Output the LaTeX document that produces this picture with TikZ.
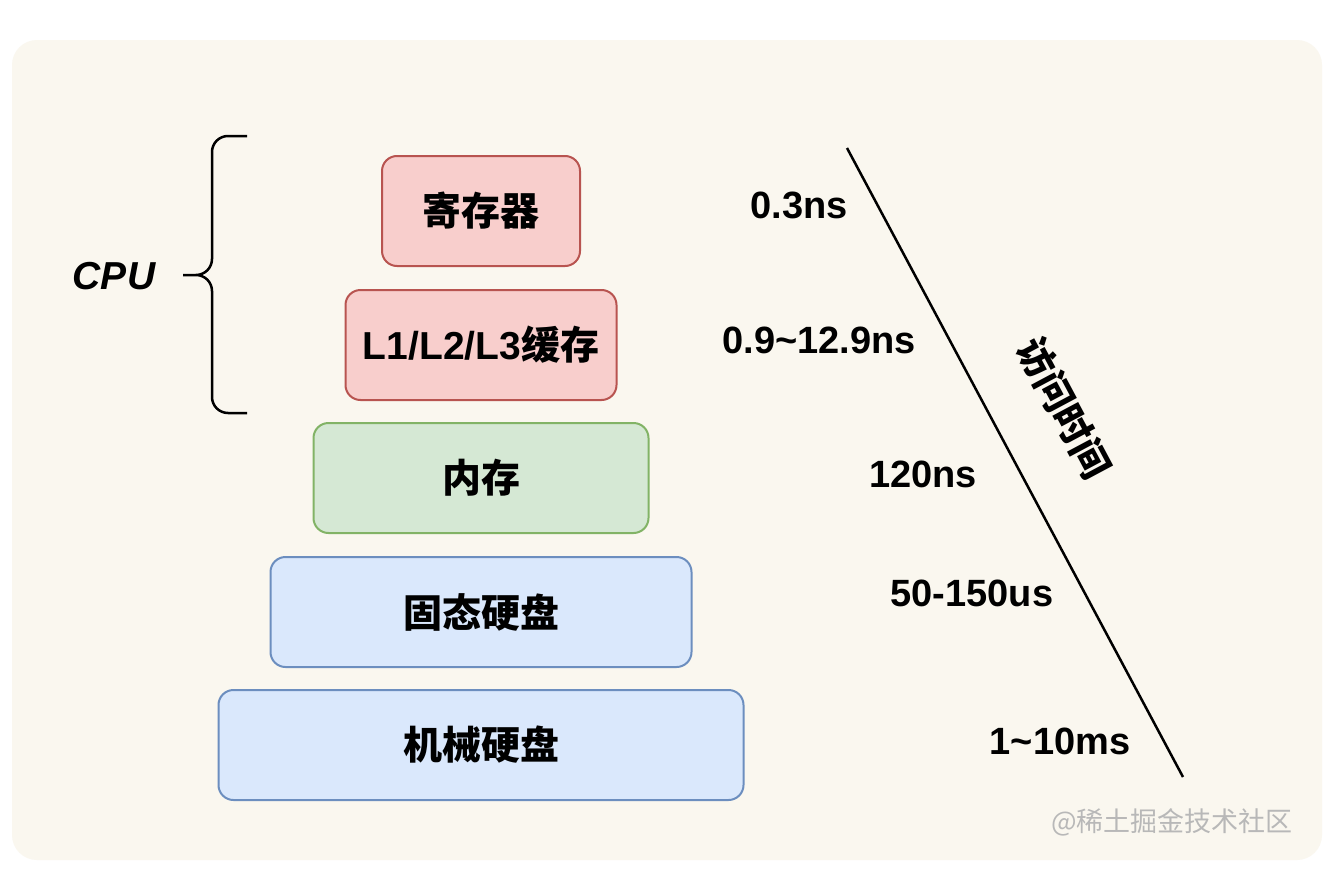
\documentclass[tikz,border=0pt]{standalone}
\usepackage{fontspec}
\setmainfont{Liberation Sans}
\newfontfamily\cjk{Noto Sans CJK SC}
\definecolor{bgbeige}{HTML}{FAF7EF}
\definecolor{regfill}{HTML}{F8CECC}
\definecolor{regline}{HTML}{B85450}
\definecolor{memfill}{HTML}{D5E8D4}
\definecolor{memline}{HTML}{82B366}
\definecolor{diskfill}{HTML}{DAE8FC}
\definecolor{diskline}{HTML}{6C8EBF}
\definecolor{wmgray}{HTML}{B8B8B8}
\newcommand\cachetext{{\rmfamily L1/L2/L3}缓存}

\begin{document}
\begin{tikzpicture}[x=1pt, y=-1pt,
	box/.style={draw, rounded corners=15, line width=2, minimum height=110, text=black,
		font=\cjk\bfseries\fontsize{39}{47}\selectfont},
	redbox/.style={box, fill=regfill, draw=regline},
	greenbox/.style={box, fill=memfill, draw=memline},
	bluebox/.style={box, fill=diskfill, draw=diskline},
	timelbl/.style={font=\bfseries\fontsize{38}{46}\selectfont}]
	%background
	\useasboundingbox (0,0) rectangle (1326,870);
	\fill[white] (0,0) rectangle (1326,870);
	\fill[bgbeige, rounded corners=25] (12,40) rectangle (1322,860);
	%boxes
	\foreach \n/\y/\w/\s/\t in {
		reg/211/198/redbox/寄存器,
		cache/345/271/redbox/\cachetext,
		mem/478/335/greenbox/内存,
		ssd/612/421/bluebox/固态硬盘,
		hdd/745/525/bluebox/机械硬盘}
	\node[\s, minimum width=\w] (\n) at (481,\y) {\t};
	%brace
	\node[font=\bfseries\itshape\fontsize{39}{47}\selectfont] (cpu) at (114,276) {CPU};
	\draw[line width=2.5, rounded corners=16]
		(247,136) -| (212,275) -- (183,275)
		(183,275) -| (212,413) -- (247,413);
	%times
	\node[timelbl] (t1) at (799,205) {0.3ns};
	\node[timelbl] (t2) at (819,340) {0.9\textasciitilde12.9ns};
	\node[timelbl] (t3) at (923,474) {120ns};
	\node[timelbl] (t4) at (972,593) {50-150us};
	\node[timelbl] (t5) at (1060,741) {1\textasciitilde10ms};
	%axis
	\coordinate (fast) at (847,148);
	\coordinate (slow) at (1183,777);
	\draw[line width=2.5] (fast) -- (slow);
	\node[rotate=-61.9, font=\cjk\bfseries\fontsize{38}{46}\selectfont] (access) at (1064,408) {访问时间};
	%watermark
	\node[text=wmgray, font=\cjk\fontsize{27}{31}\selectfont] (wm) at (1172,822) {@稀土掘金技术社区};
\end{tikzpicture}
\end{document}
